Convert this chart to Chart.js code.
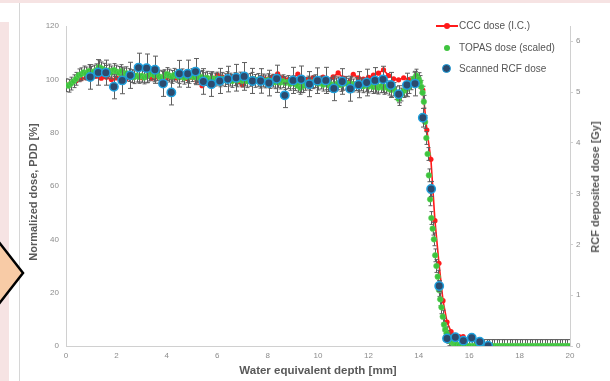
<!DOCTYPE html>
<html>
<head>
<meta charset="utf-8">
<script src="https://cdn.jsdelivr.net/npm/chart.js@4"></script>
<style>
  body { margin: 0; background: #fff; font-family: "Liberation Sans", Arial, sans-serif; }
  #page { position: relative; width: 610px; height: 381px; overflow: hidden; }
  #page canvas { position: absolute; left: 0; top: 0; }
  .topband { position: absolute; left: 0; top: 0; width: 610px; height: 3px; background: #f6e3e3; }
  .leftband { position: absolute; left: 0; top: 22px; width: 9px; height: 359px; background: #f6e3e3; }
  .vline { position: absolute; left: 19px; top: 3px; width: 1px; height: 378px; background: #d6d6d6; }
  .chevron { position: absolute; left: 0; top: 0; }
  .ytitle { position: absolute; font-weight: bold; font-size: 11px; color: #595959; white-space: nowrap;
            transform: translate(-50%, -50%) rotate(-90deg); }
  .legend { position: absolute; left: 436px; top: 19px; font-size: 10px; color: #555; }
  .legend div { position: relative; height: 21.5px; line-height: 14px; padding-left: 23px; }
  .legend .mk { position: absolute; border-radius: 50%; }
</style>
</head>
<body>
<div id="page">
  <div class="topband"></div>
  <div class="leftband"></div>
  <div class="vline"></div>
  <canvas id="pddChart" width="610" height="381"></canvas>
  <svg class="chevron" width="40" height="381">
    <polygon points="-12,228 23,273 -12,318" fill="#f8cba6" stroke="#000" stroke-width="2.5"/>
  </svg>
  <div class="ytitle" style="left:33px; top:192px;">Normalized dose, PDD [%]</div>
  <div class="ytitle" style="left:595px; top:187px;">RCF deposited dose [Gy]</div>
  <div class="legend">
    <div><span style="position:absolute;left:0;top:6px;width:22px;height:2px;background:#ff1a1a;"></span>
      <span class="mk" style="left:8px;top:4px;width:6px;height:6px;background:#ff1a1a;"></span>CCC dose (I.C.)</div>
    <div><span class="mk" style="left:8px;top:4px;width:6px;height:6px;background:#3fc43f;"></span>TOPAS dose (scaled)</div>
    <div><span class="mk" style="left:6px;top:2px;width:7px;height:7px;background:#2c4b6e;border:1.5px solid #1f9fdc;"></span>Scanned RCF dose</div>
  </div>
</div>

<script>
// Tick values
const xTicks = [0, 2, 4, 6, 8, 10, 12, 14, 16, 18, 20];
const pddTicks = [0, 20, 40, 60, 80, 100, 120];
const gyTicks = [0, 1, 2, 3, 4, 5, 6];
const gyMax = 6.3;

// CCC dose (I.C.) - depth [mm], PDD [%]
const cccDepth = [
  0, 0.2, 0.4, 0.6, 0.8, 1.0, 1.2, 1.4, 1.6, 1.8, 2.0, 2.2, 2.4, 2.6, 2.8, 3.0, 3.2, 3.4, 3.6, 3.8,
  4.0, 4.2, 4.4, 4.6, 4.8, 5.0, 5.2, 5.4, 5.6, 5.8, 6.0, 6.2, 6.4, 6.6, 6.8, 7.0, 7.2, 7.4, 7.6, 7.8,
  8.0, 8.2, 8.4, 8.6, 8.8, 9.0, 9.2, 9.4, 9.6, 9.8, 10.0, 10.2, 10.4, 10.6, 10.8, 11.0, 11.2, 11.4, 11.6, 11.8,
  12.0, 12.2, 12.4, 12.6, 12.8, 13.0, 13.2, 13.4, 13.6, 13.8, 14.0,
  14.16, 14.32, 14.48, 14.64, 14.80, 14.96, 15.12, 15.28, 15.44, 15.60, 15.76
];
const cccDose = [
  98.0, 98.6, 99.5, 100.2, 100.6, 100.9, 101.2, 100.4, 100.8, 99.9, 100.5, 101.0, 100.3, 100.7, 101.2, 100.6, 101.0, 100.4, 100.9, 100.2,
  100.7, 101.1, 100.5, 100.9, 100.3, 100.8, 99.4, 97.6, 99.2, 100.4, 101.6, 100.8, 100.2, 100.7, 99.1, 98.0, 99.5, 100.3, 99.8, 100.5,
  100.1, 100.9, 102.1, 100.6, 99.8, 100.4, 102.0, 100.5, 99.9, 100.6, 100.2, 100.8, 99.7, 100.9, 102.4, 100.5, 98.9, 101.9, 100.6, 100.1,
  100.7, 101.6, 102.3, 103.6, 101.4, 100.2, 99.8, 100.6, 99.9, 99.4, 98.1,
  96.0, 81.0, 70.0, 47.0, 31.0, 17.0, 9.0, 5.4, 4.0, 3.5, 3.5
];

// TOPAS dose (scaled) - depth [mm], PDD [%]
const topasDepth = [
  0, 0.1, 0.2, 0.3, 0.4, 0.5, 0.6, 0.7, 0.8, 0.9, 1.0, 1.1, 1.2, 1.3, 1.4, 1.5, 1.6, 1.7, 1.8, 1.9,
  2.0, 2.1, 2.2, 2.3, 2.4, 2.5, 2.6, 2.7, 2.8, 2.9, 3.0, 3.1, 3.2, 3.3, 3.4, 3.5, 3.6, 3.7, 3.8, 3.9,
  4.0, 4.1, 4.2, 4.3, 4.4, 4.5, 4.6, 4.7, 4.8, 4.9, 5.0, 5.1, 5.2, 5.3, 5.4, 5.5, 5.6, 5.7, 5.8, 5.9,
  6.0, 6.1, 6.2, 6.3, 6.4, 6.5, 6.6, 6.7, 6.8, 6.9, 7.0, 7.1, 7.2, 7.3, 7.4, 7.5, 7.6, 7.7, 7.8, 7.9,
  8.0, 8.1, 8.2, 8.3, 8.4, 8.5, 8.6, 8.7, 8.8, 8.9, 9.0, 9.1, 9.2, 9.3, 9.4, 9.5, 9.6, 9.7, 9.8, 9.9,
  10.0, 10.1, 10.2, 10.3, 10.4, 10.5, 10.6, 10.7, 10.8, 10.9, 11.0, 11.1, 11.2, 11.3, 11.4, 11.5, 11.6, 11.7, 11.8, 11.9,
  12.0, 12.1, 12.2, 12.3, 12.4, 12.5, 12.6, 12.7, 12.8, 12.9, 13.0, 13.1, 13.2, 13.3, 13.4, 13.5, 13.6, 13.7, 13.8, 13.9,
  14.0, 14.05, 14.1, 14.15, 14.2, 14.25, 14.3, 14.35, 14.4, 14.45, 14.5, 14.55, 14.6, 14.65, 14.7, 14.75, 14.8, 14.85, 14.9, 14.95,
  15.0, 15.05, 15.1, 15.15, 15.2, 15.25, 15.3, 15.35, 15.4, 15.45, 15.5,
  15.6, 15.7, 15.8, 15.9, 16.0, 16.1, 16.2, 16.3, 16.4, 16.5, 16.6, 16.7, 16.8, 16.9, 17.0, 17.1, 17.2, 17.3, 17.4, 17.5,
  17.6, 17.7, 17.8, 17.9, 18.0, 18.1, 18.2, 18.3, 18.4, 18.5, 18.6, 18.7, 18.8, 18.9, 19.0, 19.1, 19.2, 19.3, 19.4, 19.5,
  19.6, 19.7, 19.8, 19.9, 20.0
];
const topasDose = [
  97.8, 97.6, 98.4, 99.3, 100.2, 101.5, 101.9, 102.6, 102.2, 103.1, 102.4, 102.9, 103.4, 104.6, 104.1, 103.6, 102.8, 103.3, 102.6, 103.5,
  102.9, 102.4, 103.1, 101.8, 102.3, 101.6, 101.2, 100.8, 101.4, 100.9, 101.3, 100.7, 101.1, 101.8, 102.2, 101.5, 101.9, 101.0, 100.6, 101.2,
  102.0, 101.4, 100.9, 101.7, 101.3, 100.8, 101.5, 100.6, 101.2, 100.9, 101.6, 100.8, 101.3, 100.5, 100.9, 100.1, 100.6, 99.8, 100.4, 99.9,
  100.3, 99.6, 100.2, 99.7, 100.5, 99.9, 99.4, 100.1, 99.6, 100.3, 99.5, 99.9, 99.3, 99.8, 100.2, 99.4, 99.8, 99.1, 99.6, 99.2,
  99.7, 99.0, 99.5, 98.9, 99.4, 98.8, 99.3, 98.6, 99.0, 98.3, 98.9, 98.2, 97.6, 96.8, 97.5, 98.3, 98.8, 98.2, 98.9, 99.3,
  98.4, 98.8, 98.0, 98.5, 97.8, 98.2, 97.5, 98.1, 98.5, 97.9, 98.3, 98.7, 98.0, 98.4, 97.7, 98.2, 97.6, 98.1, 97.4, 97.9,
  97.3, 97.8, 97.1, 97.6, 96.9, 97.4, 96.8, 97.2, 96.5, 96.0, 96.4, 94.8, 92.6, 94.3, 95.6, 96.2, 97.1, 98.5, 100.3, 101.4,
  100.1, 99.0, 97.2, 95.0, 91.6, 84.0, 78.0, 72.0, 64.0, 55.0, 48.0, 44.0, 40.0, 34.0, 30.0, 26.0, 21.0, 17.5, 14.5, 11.0,
  8.0, 6.2, 4.8, 3.4, 2.5, 1.9, 1.4, 1.1, 0.8, 0.6, 0.5,
  0.3, 0.15, 0.05, 0, 0, 0, 0, 0, 0, 0, 0, 0, 0, 0, 0, 0, 0, 0, 0, 0,
  0, 0, 0, 0, 0, 0, 0, 0, 0, 0, 0, 0, 0, 0, 0, 0, 0, 0, 0, 0,
  0, 0, 0, 0, 0
];
const topasErr = 2.4;

// Scanned RCF dose - depth [mm], PDD [%], error [%]
const rcfDepth = [
  0.96, 1.28, 1.58, 1.90, 2.23, 2.55, 2.88, 3.20, 3.53, 3.85, 4.18, 4.50, 4.83, 5.14, 5.45, 5.77, 6.10, 6.42, 6.75, 7.07,
  7.40, 7.72, 8.05, 8.36, 8.68, 9.01, 9.33, 9.66, 9.98, 10.31, 10.63, 10.96, 11.28, 11.61, 11.93, 12.26, 12.58, 12.89, 13.20, 13.53,
  13.85, 14.16, 14.49, 14.81, 15.12, 15.45, 15.77, 16.10, 16.42, 16.75
];
const rcfDose = [
  100.9, 102.6, 102.5, 97.2, 99.6, 101.5, 104.4, 104.2, 103.6, 98.4, 95.1, 102.1, 102.1, 102.9, 99.2, 98.2, 99.4, 100.1, 100.6, 101.1,
  99.4, 99.4, 98.6, 100.2, 94.0, 99.6, 100.0, 98.2, 99.5, 99.6, 96.6, 99.2, 96.5, 98.0, 98.8, 99.6, 100.0, 97.9, 94.4, 97.9,
  98.4, 85.6, 58.9, 22.5, 2.8, 3.3, 2.0, 3.1, 1.6, 0.1
];
const rcfErr = [
  4.6, 4.8, 4.7, 4.5, 5.0, 4.9, 5.4, 5.3, 5.1, 4.8, 4.7, 5.0, 5.1, 4.9, 4.8, 4.6, 4.7, 4.8, 5.0, 5.2,
  4.7, 4.6, 4.8, 5.1, 4.6, 4.9, 5.0, 4.7, 4.8, 4.9, 4.6, 4.8, 4.7, 4.9, 5.0, 4.8, 4.9, 4.7, 3.2, 4.4,
  4.6, 3.5, 2.8, 2.0, 1.0, 1.0, 0.9, 0.9, 0.8, 0.8
];

const pairs = (xs, ys) => xs.map((x, i) => ({ x: x, y: ys[i] }));

// Barres d'erreur verticales, dessinées sous les points du jeu de données
const errorBars = {
    id: 'errorBars',
    beforeDatasetDraw: function(chart, args) {
        const ds = chart.data.datasets[args.index];
        if (ds.errors === undefined) return;
        const ctx = chart.ctx;
        const area = chart.chartArea;
        const xs = chart.scales.x;
        const ys = chart.scales.y;
        ctx.save();
        ctx.beginPath();
        ctx.rect(area.left, area.top, area.right - area.left, area.bottom - area.top);
        ctx.clip();
        ctx.strokeStyle = ds.errorColor;
        ctx.lineWidth = 1;
        ds.data.forEach((p, i) => {
            const e = Array.isArray(ds.errors) ? ds.errors[i] : ds.errors;
            const x = Math.round(xs.getPixelForValue(p.x)) + 0.5;
            const yLo = ys.getPixelForValue(p.y - e);
            const yHi = ys.getPixelForValue(p.y + e);
            const c = ds.capHalf;
            ctx.beginPath();
            ctx.moveTo(x, yLo); ctx.lineTo(x, yHi);
            ctx.moveTo(x - c, yLo); ctx.lineTo(x + c, yLo);
            ctx.moveTo(x - c, yHi); ctx.lineTo(x + c, yHi);
            ctx.stroke();
        });
        ctx.restore();
    }
};

const tickFont = { family: 'Liberation Sans, Arial, sans-serif', size: 8 };
const axisColor = '#d0d0d0';

new Chart(document.getElementById('pddChart'), {
    type: 'scatter',
    data: {
        datasets: [
            {
                label: 'CCC dose (I.C.)',
                data: pairs(cccDepth, cccDose),
                showLine: true,
                borderColor: '#ff1a1a',
                backgroundColor: '#ff1a1a',
                borderWidth: 1.6,
                pointRadius: 2.6,
                pointBorderWidth: 0,
                order: 3
            },
            {
                label: 'TOPAS dose (scaled)',
                data: pairs(topasDepth, topasDose),
                showLine: false,
                backgroundColor: '#3cc43c',
                borderColor: '#5ccf5c',
                borderWidth: 0.6,
                pointRadius: 2.8,
                errors: topasErr,
                errorColor: '#5e5e5e',
                capHalf: 2,
                order: 2
            },
            {
                label: 'Scanned RCF dose',
                data: pairs(rcfDepth, rcfDose),
                showLine: false,
                backgroundColor: '#2c4b6e',
                borderColor: '#1f9fdc',
                borderWidth: 1.5,
                pointRadius: 4.2,
                errors: rcfErr,
                errorColor: '#5e5e5e',
                capHalf: 2.5,
                order: 1
            }
        ]
    },
    options: {
        responsive: false,
        animation: false,
        layout: { padding: { left: 20, right: 8, top: 26, bottom: 0 } },
        plugins: {
            legend: { display: false },
            tooltip: { enabled: false }
        },
        scales: {
            x: {
                type: 'linear',
                min: 0,
                max: 20,
                afterBuildTicks: s => { s.ticks = xTicks.map(v => ({ value: v })); },
                afterFit: s => { s.height = 35; },
                grid: { display: false, drawTicks: false },
                border: { display: true, color: axisColor },
                ticks: { font: tickFont, color: '#8c8c8c', padding: 5, maxRotation: 0 },
                title: {
                    display: true,
                    text: 'Water equivalent depth [mm]',
                    color: '#595959',
                    font: { family: 'Liberation Sans, Arial, sans-serif', size: 11.5, weight: 'bold' },
                    padding: { top: 0, bottom: 3 }
                }
            },
            y: {
                position: 'left',
                min: 0,
                max: 120,
                afterBuildTicks: s => { s.ticks = pddTicks.map(v => ({ value: v })); },
                afterFit: s => { s.width = 46; },
                grid: { display: false, drawTicks: false },
                border: { display: true, color: axisColor },
                ticks: { font: tickFont, color: '#8c8c8c', padding: 7 }
            },
            y1: {
                position: 'right',
                min: 0,
                max: gyMax,
                afterBuildTicks: s => { s.ticks = gyTicks.map(v => ({ value: v })); },
                afterFit: s => { s.width = 32; },
                grid: { drawOnChartArea: false, drawTicks: true, tickLength: 3, color: axisColor },
                border: { display: true, color: axisColor },
                ticks: { font: tickFont, color: '#8c8c8c', padding: 3 }
            }
        }
    },
    plugins: [errorBars]
});
</script>
</body>
</html>
